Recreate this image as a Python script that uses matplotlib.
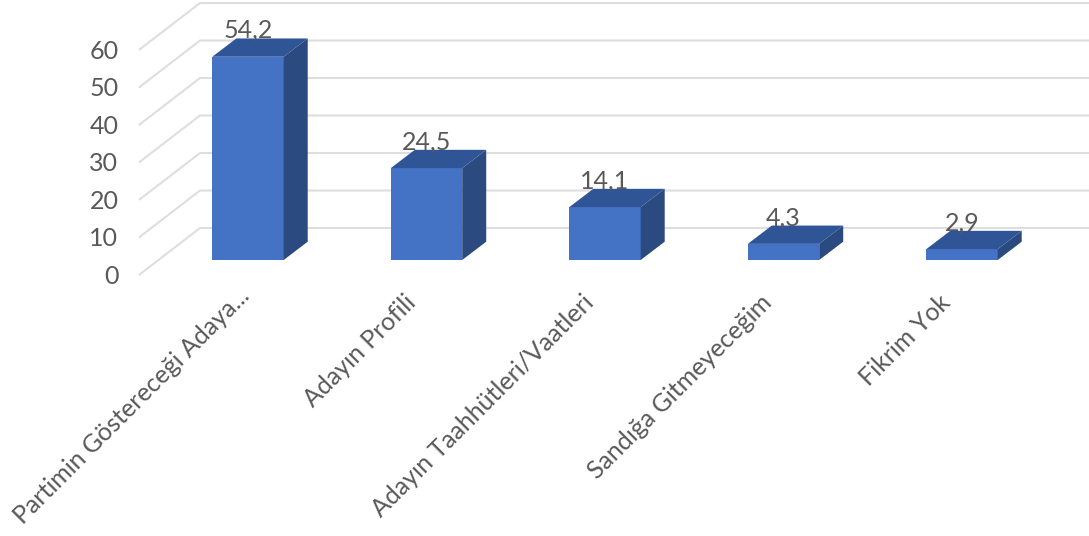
import matplotlib
matplotlib.use("Agg")
import matplotlib.pyplot as plt
from matplotlib.patches import Polygon

# data
categories = ["Partimin Göstereceği Adaya...", "Adayın Profili", "Adayın Taahhütleri/Vaatleri",
              "Sandığa Gitmeyeceğim", "Fikrim Yok"]
values = [54.2, 24.5, 14.1, 4.3, 2.9]
value_labels = ["54,2", "24,5", "14,1", "4,3", "2,9"]
y_ticks = [0, 10, 20, 30, 40, 50, 60]

# fake 3d look, all in data units
bar_width = 0.4
depth_x = 0.1345
depth_y = 4.88
wall_front_x, wall_back_x = -0.611, -0.269
floor_front_y, floor_back_y = -4.0, 8.53

front_color = "#4472C4"
side_color = "#2A4A80"
top_color = "#2F5597"
grid_color = "#DEDEDE"
text_color = "#595959"

plt.rcParams["font.family"] = ["Lato", "DejaVu Sans"]

fig = plt.figure(figsize=(10.89, 5.36), dpi=100)
ax = fig.add_axes([0, 0, 1, 1])
ax.set_xlim(-248 / 178.5, 841 / 178.5)
ax.set_ylim(-276 / 3.75, 260 / 3.75)
ax.axis("off")

# gridlines: side wall diagonal + back wall
for t in y_ticks:
    ax.plot([wall_front_x, wall_back_x, ax.get_xlim()[1]],
            [floor_front_y + t, floor_back_y + t, floor_back_y + t],
            color=grid_color, lw=1.5, zorder=1, solid_capstyle="butt")
    ax.text(wall_front_x - 0.115, floor_front_y + t - 0.3, str(t), ha="right", va="center",
            fontsize=18, color=text_color)

# bars
for i, v in enumerate(values):
    left = i - bar_width / 2
    right = i + bar_width / 2
    ax.bar(i, v, width=bar_width, color=front_color, zorder=3)
    ax.add_patch(Polygon([(right, 0), (right + depth_x, depth_y), (right + depth_x, v + depth_y), (right, v)],
                         closed=True, facecolor=side_color, edgecolor="none", zorder=3))
    ax.add_patch(Polygon([(left, v), (right, v), (right + depth_x, v + depth_y), (left + depth_x, v + depth_y)],
                         closed=True, facecolor=top_color, edgecolor="none", zorder=3))
    ax.text(i, v + 5.0, value_labels[i], ha="center", va="baseline", fontsize=18, color=text_color, zorder=4)

# rotated category labels, the truncated first one sits a bit further right
for i, name in enumerate(categories):
    if i == 0:
        label_x, label_y = i - 0.06, -6.5
    else:
        label_x, label_y = i - 0.13, -8.3
    ax.text(label_x, label_y, name, rotation=45, rotation_mode="anchor", ha="right", va="top",
            fontsize=18, color=text_color)

fig.savefig("out.png", dpi=100)
